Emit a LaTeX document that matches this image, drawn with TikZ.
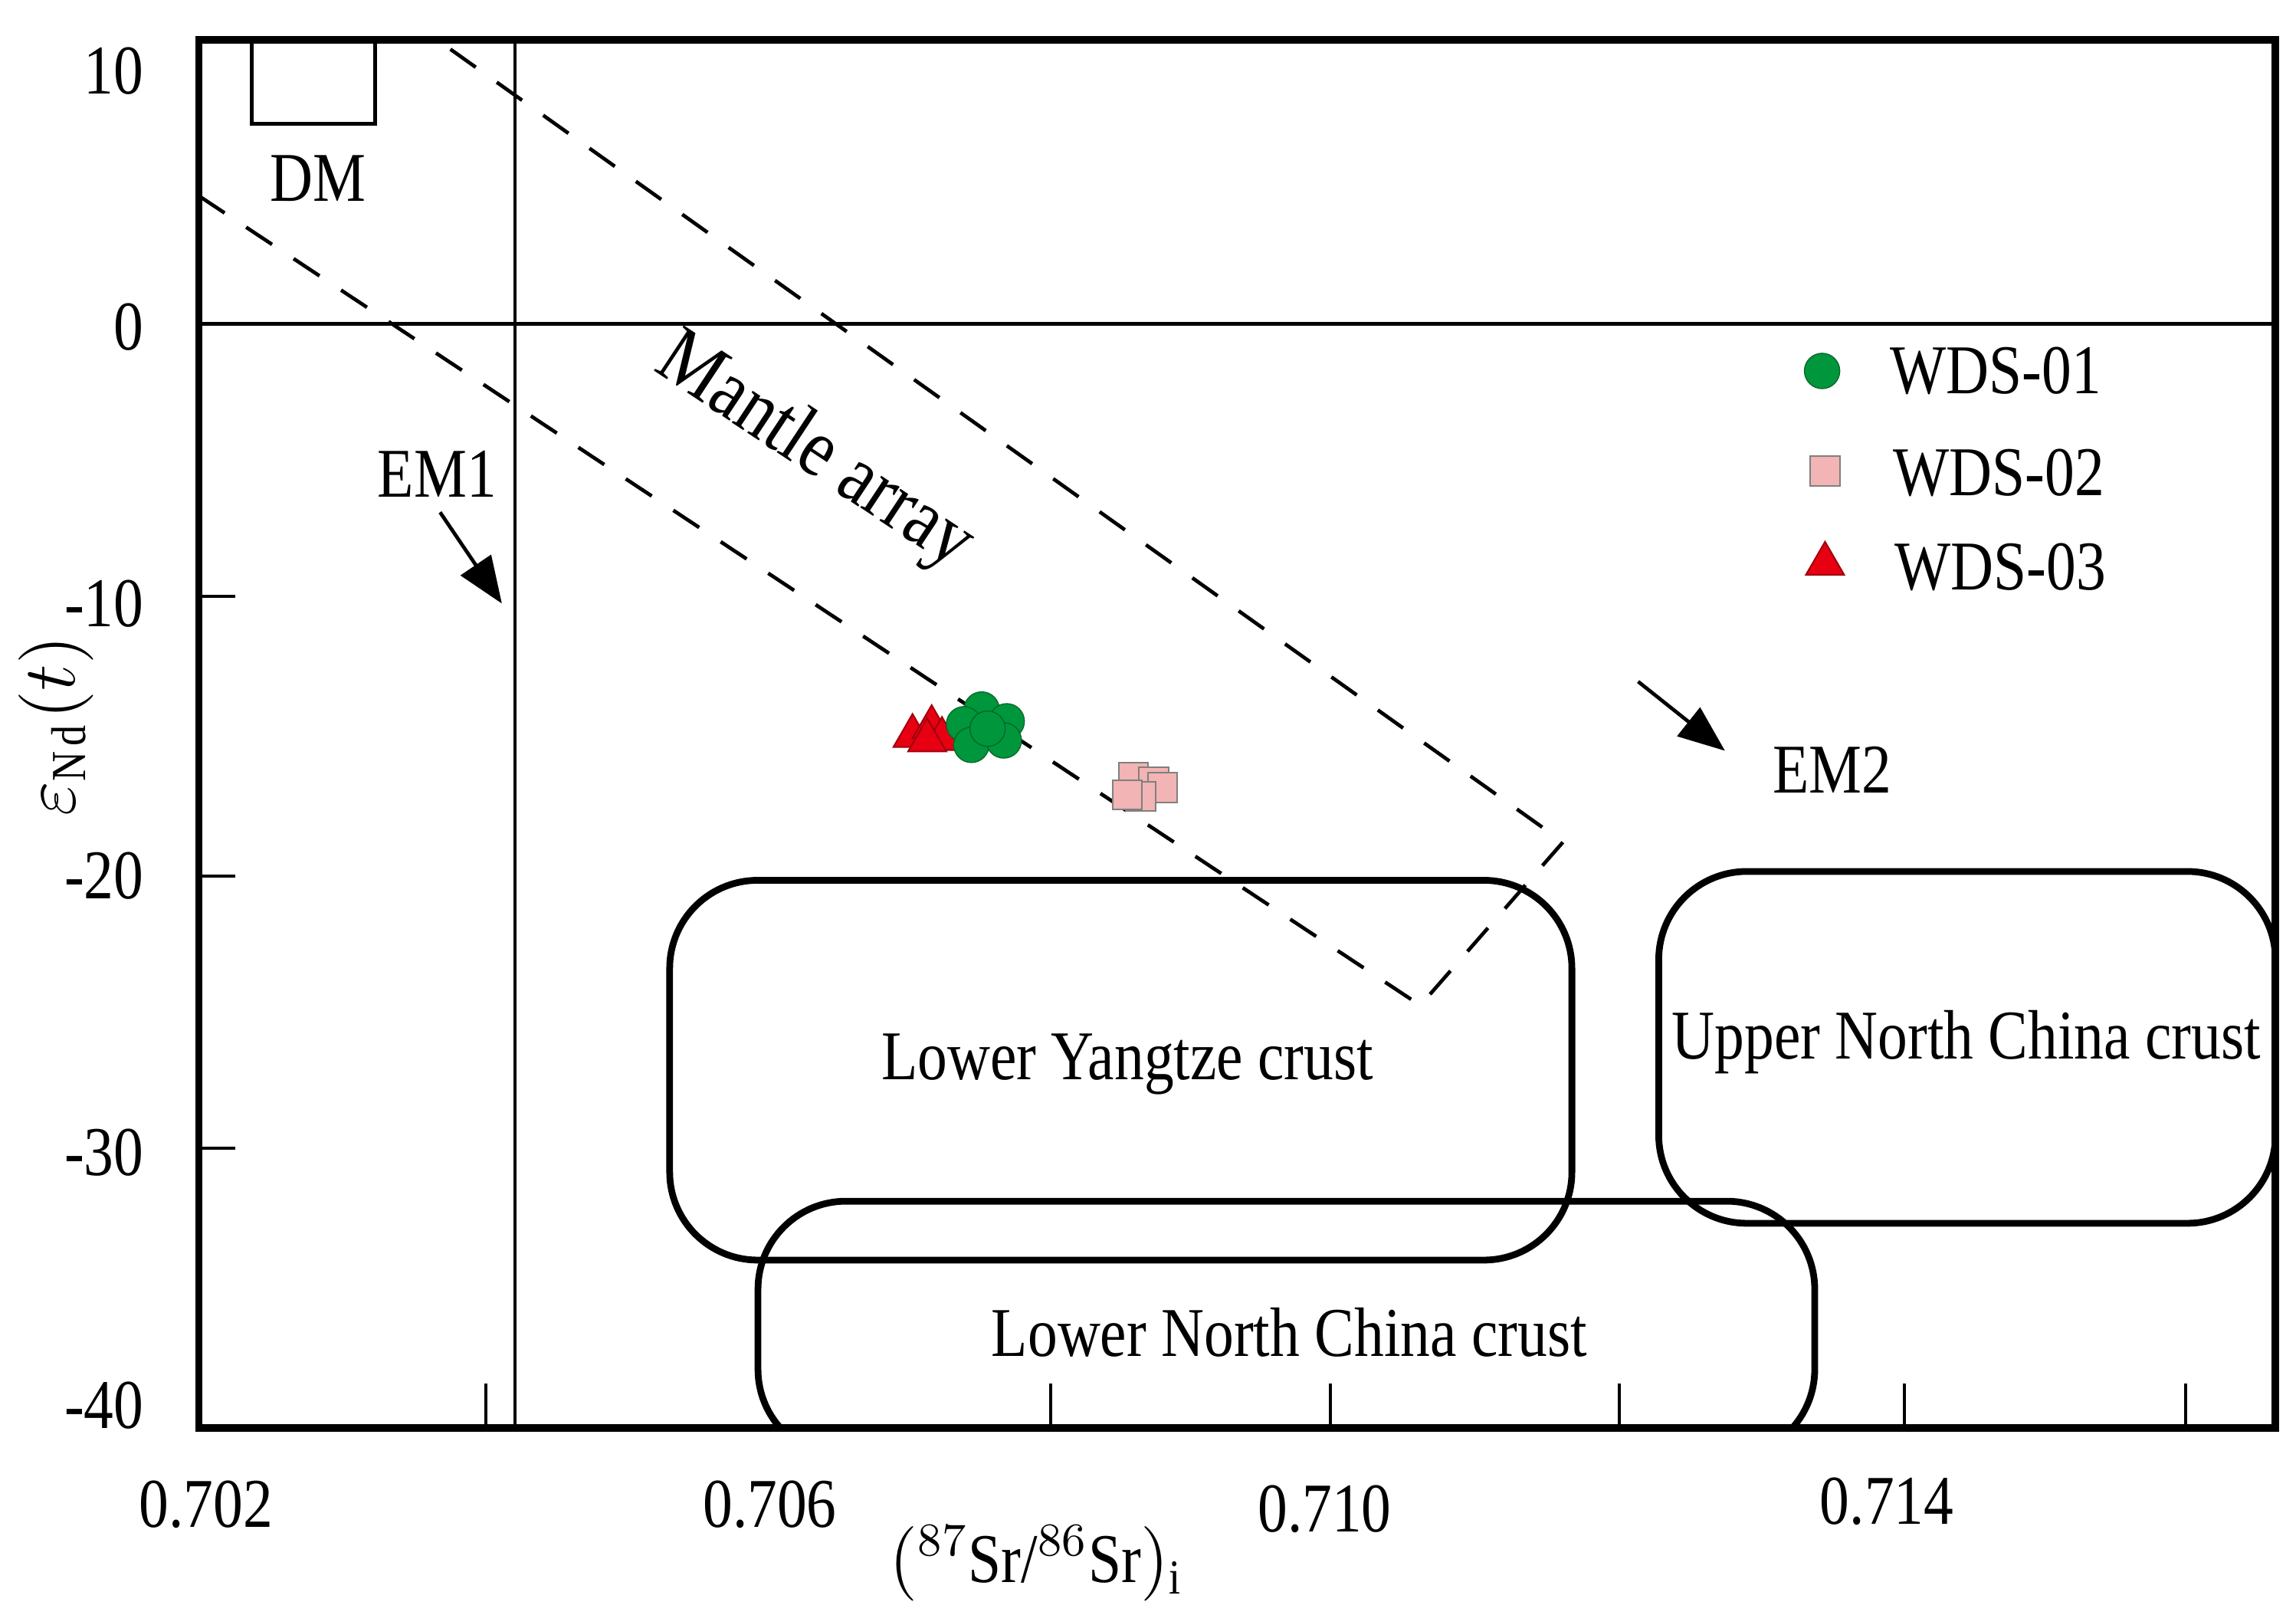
\documentclass[tikz,border=0pt]{standalone}
\usepackage{fontspec}
\setmainfont{Liberation Serif}[FakeStretch=0.85]
\usetikzlibrary{arrows.meta,shapes.geometric}
\definecolor{gr}{RGB}{0,150,60}
\definecolor{pk}{RGB}{242,180,180}
\definecolor{rd}{RGB}{230,0,18}
\begin{document}
\begin{tikzpicture}[x=0.01cm,y=-0.01cm,
 lab/.style={font=\fontsize{13.5}{16}\selectfont},
 box/.style={line width=1.3pt,rounded corners=17pt},
 mdash/.style={line width=0.7pt,dash pattern=on 6pt off 5pt},
 arr/.style={-{Triangle[length=9pt,width=7pt]},line width=0.7pt},
 circ/.style={circle,fill=gr,draw=gr!70!black,line width=0.2pt,minimum size=0.24cm,inner sep=0},
 sq/.style={rectangle,fill=pk,draw=gray,line width=0.3pt,minimum size=0.2cm,inner sep=0},
 tri/.style={regular polygon,regular polygon sides=3,fill=rd,draw=rd!70!black,line width=0.3pt,minimum size=0.3cm,inner sep=0}]
\useasboundingbox (0,0) rectangle (1560,1097);
% boxes
\draw[box] (455,598) rectangle (1068,856);
\draw[box] (515,816) rectangle (1233,990);
\draw[box] (1127,592) rectangle (1546,831);
\fill[white] (130,971) rectangle (1550,1000);
% frame and lines
\draw[line width=0.6pt] (135,220) -- (1546,220);
\draw[line width=0.6pt] (350,27) -- (350,970);
\draw[line width=0.6pt] (135,405) -- (160,405) (135,595) -- (160,595) (135,780) -- (160,780);
\foreach \x in {330,714,904,1100,1294,1485} \draw[line width=0.6pt] (\x,970) -- (\x,940);
\draw[line width=1.4pt] (135,27) rectangle (1546,970);
\draw[line width=0.7pt] (171,27) rectangle (255,84);
\node[lab] (dm) at (216,121) {DM};
% mantle array
\coordinate (a1) at (135,133);
\coordinate (a2) at (965,683);
\coordinate (a3) at (1062,572);
\coordinate (a4) at (297,27);
\draw[mdash] (a1) -- (a2) -- (a3) -- (a4);
\node[lab,font=\fontsize{16}{19}\selectfont,rotate=-33.5] (ma) at (553,308) {Mantle array};
% EM arrows
\node[lab] (em1) at (297,322) {EM1};
\coordinate (e1) at (341,410);
\draw[arr] (299,348) -- (e1);
\node[lab] (em2) at (1245,523) {EM2};
\coordinate (e2s) at (1113,463);
\coordinate (e2) at (1172,510);
\draw[arr] (e2s) -- (e2);
% crust labels
\node[lab] (ly) at (766,723) {Lower Yangtze crust};
\node[lab] (lnc) at (876,905) {Lower North China crust};
\node[lab] (unc) at (1336,708) {Upper North China crust};
% data
\foreach \p in {(620,500),(633,494),(640,502),(630,503)} \node[tri] at \p {};
\foreach \p in {(667,482),(655,492),(684,490),(660,506),(682,503),(671,495)} \node[circ] at \p {};
\foreach \p in {(770,528),(784,531),(790,535),(775,541),(766,540)} \node[sq] at \p {};
% legend
\node[circ] (l1) at (1238,252) {};
\node[lab,anchor=west] (t1) at (1272,252) {WDS-01};
\node[sq] (l2) at (1240,320) {};
\node[lab,anchor=west] (t2) at (1274,321) {WDS-02};
\node[tri] (l3) at (1240,383) {};
\node[lab,anchor=west] (t3) at (1275,385) {WDS-03};
% axes labels
\foreach \y/\t in {48/10,222/0,410/-10,595/-20,783/-30,955/-40}
  \node[lab,anchor=east] at (110,\y) {\t};
\foreach \x/\t/\y in {140/0.702/1022,523/0.706/1022,900/0.710/1025,1282/0.714/1020}
  \node[lab] at (\x,\y) {\t};
\node[lab] (xt) at (705,1062) {$(^{87}$Sr/$^{86}$Sr$)_{\mathrm{i}}$};
\node[lab,rotate=90] (yt) at (38,493) {$\varepsilon_{\mathrm{Nd}}(t)$};
\end{tikzpicture}
\end{document}
